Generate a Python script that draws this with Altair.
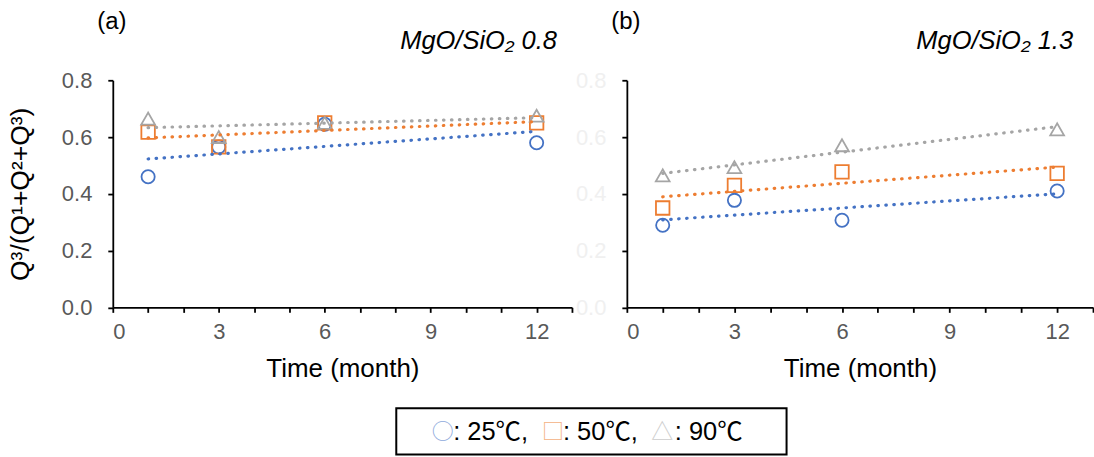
import altair as alt
import pandas as pd

# Sampling times (months) and Q3 fraction per temperature series
times = [1, 3, 6, 12]
temps = ["25", "50", "90"]

a_25 = [0.46, 0.565, 0.645, 0.58]
a_50 = [0.617, 0.565, 0.65, 0.65]
a_90 = [0.665, 0.60, 0.65, 0.675]

b_25 = [0.289, 0.377, 0.307, 0.41]
b_50 = [0.35, 0.43, 0.477, 0.472]
b_90 = [0.465, 0.494, 0.571, 0.627]

panel_tags = ["(a)", "(b)"]
panel_titles = ["MgO/SiO\u2082 0.8", "MgO/SiO\u2082 1.3"]
legend_labels = [": 25\u2103,", ": 50\u2103,", ": 90\u2103"]
legend_glyphs = ["\u25cb", "\u25a1", "\u25b3"]

x_ticks = list(range(0, 14))
y_ticks = [0.0, 0.2, 0.4, 0.6, 0.8]

rows = []
for panel, series in (("a", (a_25, a_50, a_90)), ("b", (b_25, b_50, b_90))):
    for temp, vals in zip(temps, series):
        for t, v in zip(times, vals):
            rows.append({"panel": panel, "temp": temp, "time": t, "value": v})
df = pd.DataFrame(rows)

COLORS = ["#4472C4", "#ED7D31", "#A5A5A5"]
LEGEND_COLORS = ["#8FAADC", "#F4B183", "#CDCDCD"]
FONT = "Liberation Sans"

color = alt.Color("temp:N", scale=alt.Scale(domain=temps, range=COLORS), legend=None)
shape = alt.Shape("temp:N", scale=alt.Scale(domain=temps, range=["circle", "square", "triangle-up"]), legend=None)
size = alt.Size("temp:N", scale=alt.Scale(domain=temps, range=[175, 190, 260]), legend=None)


def text_layer(txt, x, y, **kw):
    return alt.Chart(pd.DataFrame({"t": [txt]})).mark_text(**kw).encode(
        text="t:N", x=alt.value(x), y=alt.value(y)
    )


def panel(p, idx, width, title_right, ytitle, ylabel_color):
    base = alt.Chart(df).transform_filter(alt.datum.panel == p)
    x = alt.X(
        "time:Q",
        scale=alt.Scale(domain=[0, 13], nice=False, zero=False),
        axis=alt.Axis(
            values=x_ticks,
            labelExpr="datum.value % 3 === 0 ? datum.label : ''",
            title="Time (month)",
            titlePadding=13,
            labelPadding=9,
        ),
    )
    y = alt.Y(
        "value:Q",
        scale=alt.Scale(domain=[0, 0.8], nice=False),
        axis=alt.Axis(
            values=y_ticks,
            format=".1f",
            title=ytitle,
            labelColor=ylabel_color,
            labelPadding=16,
            titlePadding=27,
            titleFontSize=26.5,
        ),
    )
    points = base.mark_point(filled=False, strokeWidth=1.8, opacity=1).encode(
        x=x, y=y, color=color, shape=shape, size=size
    )
    trends = (
        base.transform_regression("time", "value", groupby=["temp"], extent=[1, 12])
        .mark_line(strokeDash=[0.5, 7.5], strokeWidth=3.2, strokeCap="round")
        .encode(x=x, y=y, color=color)
    )
    tag = text_layer(panel_tags[idx], -1, -58, fontSize=24, font=FONT, align="center", baseline="middle", color="#000000")
    title = text_layer(panel_titles[idx], title_right, -31, fontSize=25.5, font=FONT, fontStyle="italic",
                       align="right", baseline="alphabetic", color="#000000")
    return alt.layer(points, trends, tag, title).properties(width=width, height=227.5)


left = panel("a", 0, 460, 445, "Q\u00b3/(Q\u00b9+Q\u00b2+Q\u00b3)", "#595959")
right = panel("b", 1, 467, 447, None, "#F0F0F0")

# anchor keeps the first plot area at a fixed offset from the page corner
anchor = alt.Chart(pd.DataFrame({"a": [0]})).mark_rect(opacity=0).encode(
    x=alt.value(-113), x2=alt.value(-112), y=alt.value(-79.5), y2=alt.value(-79)
)

# boxed key below the panels
box = alt.Chart(pd.DataFrame({"a": [0]})).mark_rect(filled=False, stroke="#000000", strokeWidth=2).encode(
    x=alt.value(284), x2=alt.value(675), y=alt.value(328.5), y2=alt.value(375)
)
key_layers = [box]
glyph_x = [330.5, 441, 550.5]
label_x = [341, 451, 563]
for g, gc, gx, lab, lx in zip(legend_glyphs, LEGEND_COLORS, glyph_x, legend_labels, label_x):
    key_layers.append(text_layer(g, gx, 352, fontSize=22, font="Noto Sans CJK JP", align="center",
                                 baseline="middle", color=gc))
    key_layers.append(text_layer(lab, lx, 352, fontSize=25.5, font=FONT + ", Noto Sans CJK JP", align="left",
                                 baseline="middle", color="#000000"))

left = alt.layer(left, anchor, *key_layers)

chart = (
    alt.hconcat(left, right, spacing=55, bounds="flush")
    .properties(padding=0, background="#FFFFFF")
    .configure_view(stroke=None)
    .configure_axis(
        grid=False,
        domainColor="#000000",
        domainWidth=1.8,
        tickColor="#000000",
        tickWidth=1.8,
        tickSize=5,
        labelFont=FONT,
        labelFontSize=22,
        labelColor="#595959",
        titleFont=FONT,
        titleFontSize=26,
        titleFontWeight="normal",
        titleColor="#000000",
    )
)

chart.save("out.html", embed_options={"renderer": "svg", "actions": False})
